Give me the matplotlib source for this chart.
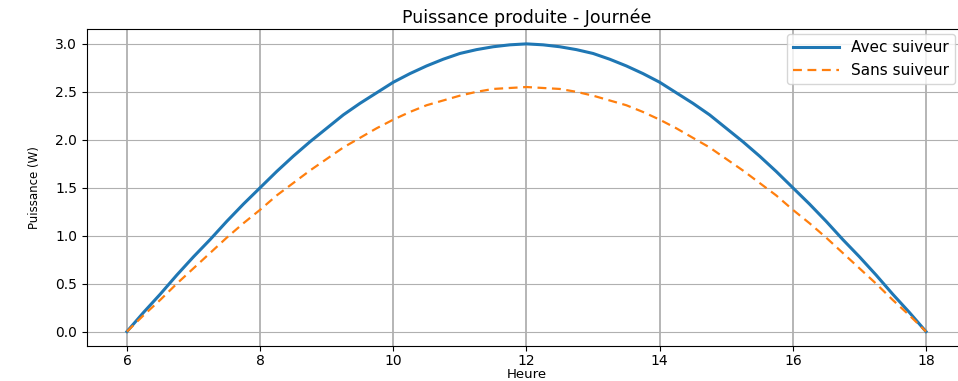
import matplotlib
matplotlib.use("Agg")
import matplotlib.pyplot as plt

# heures de la journée (pas d'un quart d'heure)
heures = [6.0, 6.25, 6.5, 6.75, 7.0, 7.25, 7.5, 7.75, 8.0, 8.25, 8.5, 8.75,
          9.0, 9.25, 9.5, 9.75, 10.0, 10.25, 10.5, 10.75, 11.0, 11.25, 11.5, 11.75,
          12.0, 12.25, 12.5, 12.75, 13.0, 13.25, 13.5, 13.75, 14.0, 14.25, 14.5, 14.75,
          15.0, 15.25, 15.5, 15.75, 16.0, 16.25, 16.5, 16.75, 17.0, 17.25, 17.5, 17.75, 18.0]

# puissance (W)
avec_suiveur = [0.00, 0.20, 0.39, 0.59, 0.78, 0.96, 1.15, 1.33, 1.50, 1.67, 1.83, 1.98,
                2.12, 2.26, 2.38, 2.49, 2.60, 2.69, 2.77, 2.84, 2.90, 2.94, 2.97, 2.99,
                3.00, 2.99, 2.97, 2.94, 2.90, 2.84, 2.77, 2.69, 2.60, 2.49, 2.38, 2.26,
                2.12, 1.98, 1.83, 1.67, 1.50, 1.33, 1.15, 0.96, 0.78, 0.59, 0.39, 0.20, 0.00]
sans_suiveur = [0.00, 0.17, 0.33, 0.50, 0.66, 0.82, 0.98, 1.13, 1.27, 1.42, 1.55, 1.68,
                1.80, 1.92, 2.02, 2.12, 2.21, 2.29, 2.36, 2.41, 2.46, 2.50, 2.53, 2.54,
                2.55, 2.54, 2.53, 2.50, 2.46, 2.41, 2.36, 2.29, 2.21, 2.12, 2.02, 1.92,
                1.80, 1.68, 1.55, 1.42, 1.27, 1.13, 0.98, 0.82, 0.66, 0.50, 0.33, 0.17, 0.00]

x_ticks = [6, 8, 10, 12, 14, 16, 18]
y_ticks = [0.0, 0.5, 1.0, 1.5, 2.0, 2.5, 3.0]

fig = plt.figure(figsize=(9.58, 3.81), dpi=100)
# the right edge of the axes runs past the figure, as in the reference
ax = fig.add_axes([0.0908, 0.092, 0.9175, 0.8306])

ax.plot(heures, avec_suiveur, color='#1f77b4', linewidth=2.2, label='Avec suiveur')
ax.plot(heures, sans_suiveur, color='#ff7f0e', linewidth=1.6, linestyle='--',
        dashes=(4, 2.5), label='Sans suiveur')

ax.set_xlim(5.4, 18.6)
ax.set_ylim(-0.15, 3.15)
ax.set_xticks(x_ticks)
ax.set_yticks(y_ticks)
ax.set_yticklabels([f"{v:.1f}" for v in y_ticks])
ax.tick_params(labelsize=10)
ax.tick_params(axis='x', pad=2.5)

ax.grid(True, axis='x', color='#b0b0b0', linewidth=1.3)
ax.grid(True, axis='y', color='#b0b0b0', linewidth=0.8)

ax.set_title('Puissance produite - Journée', fontsize=12.5, pad=5)
ax.set_xlabel('Heure', fontsize=9.5, labelpad=0)
ax.set_ylabel('Puissance (W)', fontsize=8.5, labelpad=10)

ax.legend(loc='upper right', bbox_to_anchor=(0.9875, 0.985), borderaxespad=0,
          fontsize=11, handlelength=3, framealpha=0.8)

fig.savefig('out.png', dpi=100)
